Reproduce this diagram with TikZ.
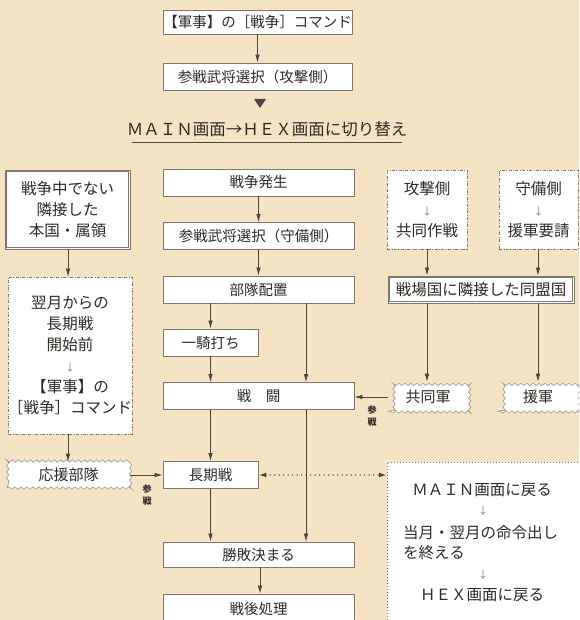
\documentclass[tikz,border=0pt]{standalone}
\usepackage{fontspec}
\setmainfont{Noto Sans CJK JP}
\usetikzlibrary{arrows.meta,decorations.pathmorphing}
\definecolor{bg}{HTML}{F4E4C4}
\definecolor{ln}{HTML}{4D4640}
\definecolor{bd}{HTML}{7F7770}
\definecolor{tx}{HTML}{2F2A25}
\newcommand{\smarr}{{\fontsize{10}{10}\selectfont\color{bd}↓}}
\begin{document}
\begin{tikzpicture}[x=1pt,y=-1pt,
  box/.style={draw=bd, line width=0.8pt, fill=white, minimum width=191pt, minimum height=27pt, inner sep=0pt, text=tx, font=\fontsize{14.5}{17}\selectfont},
  ddbox/.style={box, dash pattern=on 3pt off 1.5pt on 0.8pt off 1.5pt, line width=0.8pt, align=center, font=\fontsize{15.5}{21}\selectfont},
  wbox/.style={box, draw=bd!80, line width=0.6pt, decorate, decoration={snake, segment length=6pt, amplitude=1.2pt}},
  dotbox/.style={box, draw=bd, dash pattern=on 1pt off 2pt, line width=0.7pt},
  arr/.style={draw=ln, line width=0.7pt, -{Latex[length=8pt,width=4.5pt]}},
  dotarr/.style={draw=ln, line width=1.6pt, line cap=round, dash pattern=on 0pt off 4.5pt, {Latex[length=8pt,width=5pt]}-{Latex[length=8pt,width=5pt]}},
  lbl/.style={text=tx, font=\fontsize{9}{12}\selectfont\bfseries, align=center, inner sep=0pt},
  plain/.style={text=tx, inner sep=0pt, font=\fontsize{15.5}{21}\selectfont}
]
\useasboundingbox (0,0) rectangle (579,620);
\fill[bg] (0,0) rectangle (579,620);
\clip (0,0) rectangle (579,620);

% top
\node[box, minimum width=189pt, minimum height=24pt] (cmd) at (257.5,22) {【軍事】の［戦争］コマンド};
\node[box, minimum width=189pt] (atksel) at (257.5,76.5) {参戦武将選択（攻撃側）};
\draw[arr] (cmd) -- (atksel);
\fill[ln] (254,99) -- (266,99) -- (260,108) -- cycle;
\node[text=tx, inner sep=0pt, font=\fontsize{16.5}{20}\selectfont] (title) at (267,129) {ＭＡＩＮ画面→ＨＥＸ画面に切り替え};
\draw[ln, line width=1pt] (132,143) -- (402,143);

% center column
\node[box] (war) at (258.5,182.5) {戦争発生};
\node[box] (defsel) at (258.5,236) {参戦武将選択（守備側）};
\node[box] (deploy) at (258.5,289.5) {部隊配置};
\node[box, minimum width=95pt] (duel) at (210.5,342.5) {一騎打ち};
\node[box] (battle) at (258.5,396) {戦　闘};
\node[box, minimum width=95pt] (longwar) at (210.5,475) {長期戦};
\node[box, minimum height=25pt] (result) at (258.5,554.5) {勝敗決まる};
\node[box, minimum height=30pt] (post) at (258.5,609) {戦後処理};

\coordinate (ul) at (260,146);
\draw[bd, line width=0.5pt, double=bg, double distance=1.5pt, shorten >=4pt] (ul) -- (ul |- war.north);
\draw[arr] (war) -- (defsel);
\draw[arr] (defsel) -- (deploy);
\draw[arr] (duel.north |- deploy.south) -- (duel.north);
\draw[arr] ([xshift=47.5pt]deploy.south) -- ([xshift=47.5pt]battle.north);
\draw[arr] (duel) -- (duel.south |- battle.north);
\draw[arr] (longwar.north |- battle.south) -- (longwar.north);
\draw[arr] ([xshift=47.5pt]battle.south) -- ([xshift=47.5pt]result.north);
\draw[arr] (longwar) -- (longwar.south |- result.north);
\draw[arr] ([xshift=1.5pt]result.south) -- ([xshift=1.5pt]post.north);

% left column
\node[box, minimum width=125pt, minimum height=79pt, align=center, font=\fontsize{15.5}{21}\selectfont] (leftA) at (67.5,209.5) {戦争中でない\\隣接した\\本国・属領};
\draw[bd, line width=0.7pt] ([shift={(2.2pt,2.2pt)}]leftA.south west) rectangle ([shift={(-2.2pt,-2.2pt)}]leftA.north east);
\node[ddbox, minimum width=124pt, minimum height=157pt] (leftB) at (70,355.5) {翌月からの\\長期戦\\開始前\\\smarr\\【軍事】の\\［戦争］コマンド};
\node[wbox, minimum width=123pt, minimum height=26pt, font=\fontsize{15}{18}\selectfont] (support) at (68.5,475) {応援部隊};
\draw[arr] (leftA.south -| 68,0) -- (leftB.north -| 68,0);
\draw[arr] (leftB.south -| 68,0) -- (support.north -| 68,0);
\draw[arr] (support) -- (longwar);
\node[lbl] (lab1) at (147,495) {参\\戦};

% right side
\node[ddbox, minimum width=80pt, minimum height=79pt] (atk) at (427,209.5) {攻撃側\\\smarr\\共同作戦};
\node[ddbox, minimum width=79pt, minimum height=79pt] (def) at (538.5,209.5) {守備側\\\smarr\\援軍要請};
\node[box, minimum width=186pt, font=\fontsize{15.5}{18}\selectfont] (ally) at (481,289.5) {戦場国に隣接した同盟国};
\draw[bd, line width=0.7pt] ([shift={(2.2pt,2.2pt)}]ally.south west) rectangle ([shift={(-2.2pt,-2.2pt)}]ally.north east);
\node[wbox, minimum width=80pt, minimum height=30pt, font=\fontsize{15}{18}\selectfont] (joint) at (428,397) {共同軍};
\node[wbox, minimum width=80pt, minimum height=30pt, font=\fontsize{15}{18}\selectfont] (reinf) at (538,397) {援軍};
\draw[arr] (atk.south -| 427,0) -- (ally.north -| 427,0);
\draw[arr] (def.south -| 538,0) -- (ally.north -| 538,0);
\draw[arr] (ally.south -| 427,0) -- (joint.north -| 427,0);
\draw[arr] (ally.south -| 538,0) -- (reinf.north -| 538,0);
\draw[arr] (joint.west) -- (joint.west -| battle.east);
\node[lbl] (lab2) at (372,416) {参\\戦};

% MAIN return box
\node[dotbox, anchor=north west, minimum width=200pt, minimum height=175pt] (mainbox) at (387,462) {};
\node[plain] (m1) at (482,490) {ＭＡＩＮ画面に戻る};
\node[plain] (m2) at (483,511) {\smarr};
\node[plain, anchor=west] (m3) at (403,533) {当月・翌月の命令出し};
\node[plain, anchor=west] (m4) at (403,553) {を終える};
\node[plain] (m5) at (483,575) {\smarr};
\node[plain] (m6) at (482,595) {ＨＥＸ画面に戻る};
\draw[dotarr] (longwar.east) -- (longwar.east -| mainbox.west);
\end{tikzpicture}
\end{document}
